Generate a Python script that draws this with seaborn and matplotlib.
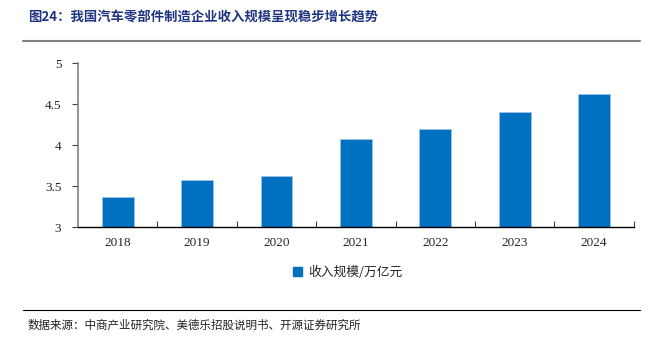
import matplotlib
matplotlib.use("Agg")
import matplotlib.pyplot as plt
import seaborn as sns
import pandas as pd
from matplotlib.lines import Line2D
from matplotlib.patches import Patch

years = ["2018", "2019", "2020", "2021", "2022", "2023", "2024"]
revenue = [3.37, 3.58, 3.63, 4.07, 4.20, 4.41, 4.62]
series_name = "收入规模/万亿元"
yticks = [3, 3.5, 4, 4.5, 5]
ytick_labels = ["3", "3.5", "4", "4.5", "5"]
title = "图24：我国汽车零部件制造企业收入规模呈现稳步增长趋势"
source = "数据来源：中商产业研究院、美德乐招股说明书、开源证券研究所"

sns.set_style("white")
plt.rcParams['font.family'] = ['Liberation Serif', 'Noto Sans CJK SC', 'DejaVu Sans']

df = pd.DataFrame({"year": years, "value": revenue})

fig = plt.figure(figsize=(6.5, 3.45), dpi=100)
ax = fig.add_axes([0.12, 0.341, 0.855, 0.476])

bar_color = "#0070C0"
sns.barplot(data=df, x="year", y="value", color=bar_color, width=0.40,
            edgecolor="#9DC3E6", linewidth=0.6, ax=ax, saturation=1)

ax.set_ylim(3, 5)
ax.set_xlim(-0.5, len(years) - 0.5)
ax.set_yticks(yticks)
ax.set_yticklabels(ytick_labels)
ax.set_xlabel("")
ax.set_ylabel("")

for s in ["top", "right"]:
    ax.spines[s].set_visible(False)
ax.spines["left"].set_color("#808080")
ax.spines["left"].set_linewidth(1.2)
ax.spines["bottom"].set_color("black")
ax.spines["bottom"].set_linewidth(1.0)

ax.tick_params(axis="y", which="major", direction="out", length=4, width=0.8,
               color="#404040", labelsize=9.5, pad=8, left=True)
ax.tick_params(axis="x", which="major", length=0, labelsize=9.5, pad=7)
ax.set_xticks([i + 0.5 for i in range(len(years))], minor=True)
ax.tick_params(axis="x", which="minor", direction="in", length=4, width=0.8,
               color="#404040", bottom=True)
for lab in ax.get_xticklabels() + ax.get_yticklabels():
    lab.set_fontfamily(['Liberation Serif'])

handle = Patch(facecolor=bar_color, edgecolor=bar_color)
leg = fig.legend([handle], [series_name], loc="center", bbox_to_anchor=(0.535, 0.21),
                 frameon=False, handlelength=0.7, handleheight=0.7, handletextpad=0.5,
                 prop={"family": ["Noto Sans CJK SC"], "size": 9.2})

fig.text(0.043, 0.948, title, fontsize=9.6, fontweight="bold", color="#1F3580",
         family=["Noto Sans CJK SC"], va="center", ha="left")
fig.add_artist(Line2D([0.035, 0.985], [0.88, 0.88], color="#808080", linewidth=1.5,
                      transform=fig.transFigure))
fig.add_artist(Line2D([0.035, 0.985], [0.101, 0.101], color="black", linewidth=0.8,
                      transform=fig.transFigure))
fig.text(0.043, 0.058, source, fontsize=8.3, color="#222222",
         family=["Noto Sans CJK SC"], va="center", ha="left")

fig.savefig("out.png", dpi=100)
